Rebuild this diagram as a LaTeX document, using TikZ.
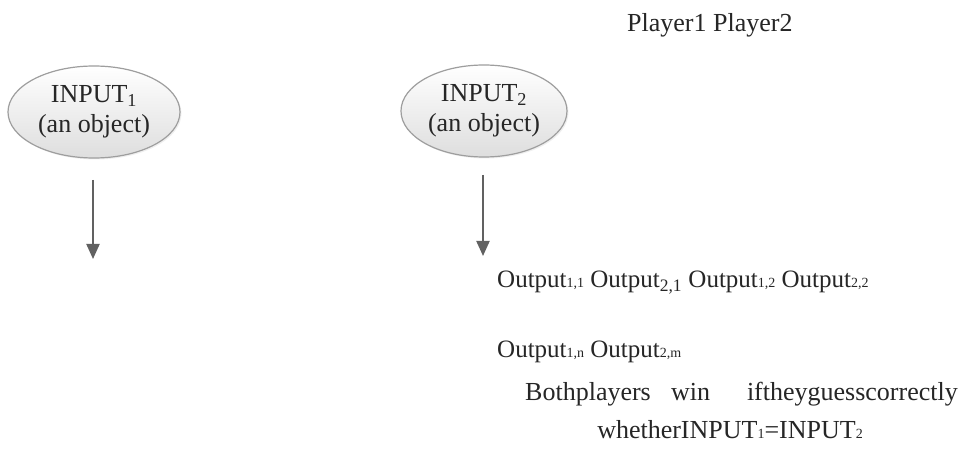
\documentclass[tikz,border=0pt]{standalone}
\usepackage{fontspec}
\setmainfont{Liberation Serif}
\usetikzlibrary{shapes.geometric,shadows,arrows.meta}
\begin{document}
\begin{tikzpicture}[x=1pt,y=-1pt,
  txt/.style={font=\fontsize{26}{30}\selectfont, text=black!85, inner sep=0pt},
  outtxt/.style={font=\fontsize{25}{30}\selectfont, text=black!85, inner sep=0pt},
  obj/.style={ellipse, draw=black!38, line width=1.2pt, top color=white, bottom color=black!13,
    inner sep=0pt, align=center, font=\fontsize{26}{30}\selectfont, text=black!85,
    drop shadow={shadow xshift=1.5pt, shadow yshift=-1.5pt, opacity=0.12}},
  arr/.style={draw=black!62, line width=2pt, -{Triangle[length=15pt,width=13pt]}}]
\newcommand{\smx}[1]{{\fontsize{14}{14}\selectfont #1}}
\useasboundingbox (0,0) rectangle (962,457);
\fill[white] (0,0) rectangle (962,457);

\node[txt, anchor=base west] (players) at (627,32) {Player1 Player2};

\node[obj, minimum width=172pt, minimum height=92pt] (in1) at (94,112) {INPUT\textsubscript{1}\\(an object)};
\node[obj, minimum width=166pt, minimum height=92pt] (in2) at (484,111) {INPUT\textsubscript{2}\\(an object)};

\coordinate (a1s) at (93,180);
\coordinate (a1e) at (93,259);
\coordinate (a2s) at (483,175);
\coordinate (a2e) at (483,256);
\draw[arr] (a1s) -- (a1e);
\draw[arr] (a2s) -- (a2e);

\node[outtxt, anchor=base west] (out1) at (497,288) {Output\smx{1,1} Output\textsubscript{2,1} Output\smx{1,2} Output\smx{2,2}};
\node[outtxt, anchor=base west] (out2) at (497,358) {Output\smx{1,n} Output\smx{2,m}};

\node[txt, anchor=base west] (w1) at (525,400) {Bothplayers};
\node[txt, anchor=base west] (w2) at (671,400) {win};
\node[txt, anchor=base east] (w3) at (958,400) {iftheyguesscorrectly};
\node[txt, anchor=base] (w4) at (730,438) {whetherINPUT\smx{1}=INPUT\smx{2}};
\end{tikzpicture}
\end{document}
